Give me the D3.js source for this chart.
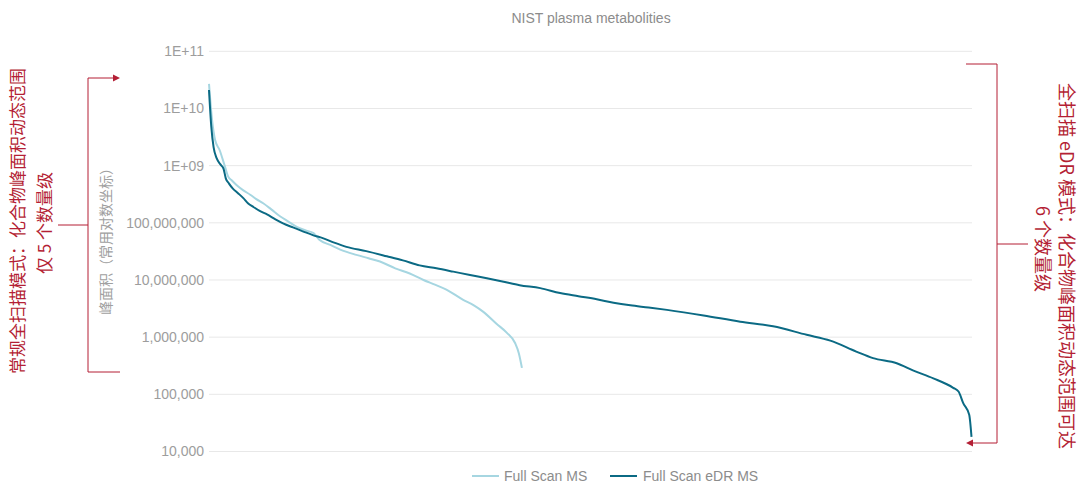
<!DOCTYPE html>
<html>
<head>
<meta charset="utf-8">
<script src="https://cdn.jsdelivr.net/npm/d3@7"></script>
<style>
  html, body { margin: 0; padding: 0; background: #fff; }
  svg { display: block; }
  text { font-family: "Liberation Sans", Arial, Helvetica, sans-serif; }
  .cjk { font-family: "Noto Sans CJK SC", "Noto Sans", sans-serif; }
</style>
</head>
<body>
<svg id="chart" width="1080" height="483"></svg>
<script>
// Compound rank (sorted by peak area, descending) and peak area
const edrRank = [1, 4, 7, 11, 16, 20, 23, 27, 32, 39, 46, 52, 59, 68, 77, 88, 98, 111, 124, 137, 150, 165, 181, 207,
  234, 255, 277, 299, 321, 343, 365, 387, 408, 435, 461, 485, 509, 531, 553, 577, 601, 649, 697, 740, 784, 815,
  849, 871, 902, 924, 950, 976, 983, 989, 997, 1000];
const edrArea = [2.1e10, 4.8e9, 2.1e9, 1.35e9, 1.05e9, 8.9e8, 6.0e8, 4.9e8, 4.0e8, 3.3e8, 2.7e8, 2.2e8, 1.9e8,
  1.6e8, 1.4e8, 1.15e8, 9.8e7, 8.3e7, 7.1e7, 6.1e7, 5.4e7, 4.5e7, 3.8e7, 3.2e7, 2.6e7, 2.2e7, 1.8e7, 1.6e7,
  1.4e7, 1.22e7, 1.07e7, 9.3e6, 8.1e6, 7.2e6, 5.9e6, 5.2e6, 4.6e6, 4.0e6, 3.6e6, 3.3e6, 3.0e6, 2.4e6, 1.86e6,
  1.55e6, 1.1e6, 8.7e5, 5.6e5, 4.3e5, 3.5e5, 2.6e5, 1.9e5, 1.3e5, 1.12e5, 7.1e4, 4.4e4, 1.8e4];

const fsRank = [1, 5, 9, 15, 22, 26, 31, 37, 46, 55, 63, 72, 83, 94, 105, 116, 127, 138, 146, 160, 173, 194, 210,
  225, 245, 264, 282, 297, 312, 334, 348, 360, 378, 391, 402, 407, 411];
const fsArea = [2.7e10, 6.3e9, 2.8e9, 1.86e9, 9.5e8, 6.5e8, 5.5e8, 4.6e8, 3.7e8, 3.1e8, 2.6e8, 2.2e8, 1.7e8,
  1.3e8, 1.05e8, 8.5e7, 7.4e7, 6.6e7, 5.0e7, 4.1e7, 3.4e7, 2.75e7, 2.4e7, 2.1e7, 1.6e7, 1.3e7, 1.0e7, 8.3e6,
  6.8e6, 4.5e6, 3.6e6, 2.8e6, 1.7e6, 1.2e6, 7.9e5, 5.2e5, 2.9e5];

const yTicks = [1e4, 1e5, 1e6, 1e7, 1e8, 1e9, 1e10, 1e11];
const yTickLabels = ["10,000", "100,000", "1,000,000", "10,000,000", "100,000,000", "1E+09", "1E+10", "1E+11"];

const seriesNames = ["Full Scan MS", "Full Scan eDR MS"];
const seriesColors = ["#a6d6e1", "#0b6a84"];

const title = "NIST plasma metabolities";
const yTitle = "峰面积（常用对数坐标）";
const leftNote = ["常规全扫描模式：化合物峰面积动态范围", "仅 5 个数量级"];
const rightNote = ["全扫描 eDR 模式：化合物峰面积动态范围可达", "6 个数量级"];

const red = "#b41f35";
const svg = d3.select("#chart");

const x = d3.scaleLinear().domain([1, 1000]).range([209, 971.5]);
const y = d3.scaleLog().domain([1e4, 1e11]).range([451.5, 51.3]);

// gridlines
svg.append("g").selectAll("line").data(yTicks).join("line")
  .attr("x1", 209).attr("x2", 972)
  .attr("y1", d => y(d)).attr("y2", d => y(d))
  .attr("stroke", "#e8e8e8").attr("stroke-width", 1);

// y axis labels
const yAxis = d3.axisLeft(y).tickValues(yTicks)
  .tickFormat((d, i) => yTickLabels[i]).tickSize(0).tickPadding(5);
const gy = svg.append("g").attr("transform", "translate(209,0)").call(yAxis);
gy.select(".domain").remove();
gy.selectAll("text").attr("font-size", 14).attr("fill", "#9d9d9d")
  .style("font-family", "'Liberation Sans', Arial, sans-serif");

// title
svg.append("text").attr("x", 591).attr("y", 23).attr("text-anchor", "middle")
  .attr("font-size", 14).attr("fill", "#8c8c8c").text(title);

// y axis title
svg.append("text").attr("class", "cjk")
  .attr("transform", "translate(111,238) rotate(-90)")
  .attr("text-anchor", "middle").attr("font-size", 14).attr("fill", "#a0a0a0")
  .text(yTitle);

// series lines
const line = d3.line().x(d => x(d[0])).y(d => y(d[1])).curve(d3.curveMonotoneX);
const fsData = fsRank.map((r, i) => [r, fsArea[i]]);
const edrData = edrRank.map((r, i) => [r, edrArea[i]]);

svg.append("path").datum(fsData).attr("d", line)
  .attr("fill", "none").attr("stroke", seriesColors[0]).attr("stroke-width", 2)
  .attr("stroke-linejoin", "round");
svg.append("path").datum(edrData).attr("d", line)
  .attr("fill", "none").attr("stroke", seriesColors[1]).attr("stroke-width", 2)
  .attr("stroke-linejoin", "round");

// legend
const legend = svg.append("g");
const legendItems = [{x0: 472, tx: 504}, {x0: 610, tx: 643}];
legendItems.forEach((it, i) => {
  legend.append("line").attr("x1", it.x0).attr("x2", it.x0 + 27)
    .attr("y1", 476).attr("y2", 476)
    .attr("stroke", seriesColors[i]).attr("stroke-width", 2);
  legend.append("text").attr("x", it.tx).attr("y", 481)
    .attr("font-size", 14).attr("fill", "#8c8c8c").text(seriesNames[i]);
});

// left bracket: spans the Full Scan MS range
const lb = svg.append("g").attr("stroke", red).attr("fill", "none").attr("stroke-width", 1);
lb.append("path").attr("d", "M114,78 H88 V372 H120");
lb.append("path").attr("d", "M58,225 H88");
svg.append("path").attr("d", "M120,78 L113,74.5 L113,81.5 Z").attr("fill", red);

// right bracket: spans the eDR range
const rb = svg.append("g").attr("stroke", red).attr("fill", "none").attr("stroke-width", 1);
rb.append("path").attr("d", "M966,64 H997 V443 H972");
rb.append("path").attr("d", "M997,244 H1028");
svg.append("path").attr("d", "M966,443 L973,439.5 L973,446.5 Z").attr("fill", red);

// left annotation
svg.append("text").attr("class", "cjk")
  .attr("transform", "translate(24,221) rotate(-90)")
  .attr("text-anchor", "middle").attr("font-size", 17).attr("fill", red).text(leftNote[0]);
svg.append("text").attr("class", "cjk")
  .attr("transform", "translate(51,223) rotate(-90)")
  .attr("text-anchor", "middle").attr("font-size", 17).attr("fill", red).text(leftNote[1]);

// right annotation
svg.append("text").attr("class", "cjk")
  .attr("transform", "translate(1060,266) rotate(90)")
  .attr("text-anchor", "middle").attr("font-size", 18).attr("fill", red).text(rightNote[0]);
svg.append("text").attr("class", "cjk")
  .attr("transform", "translate(1036,249) rotate(90)")
  .attr("text-anchor", "middle").attr("font-size", 18).attr("fill", red).text(rightNote[1]);
</script>
</body>
</html>
